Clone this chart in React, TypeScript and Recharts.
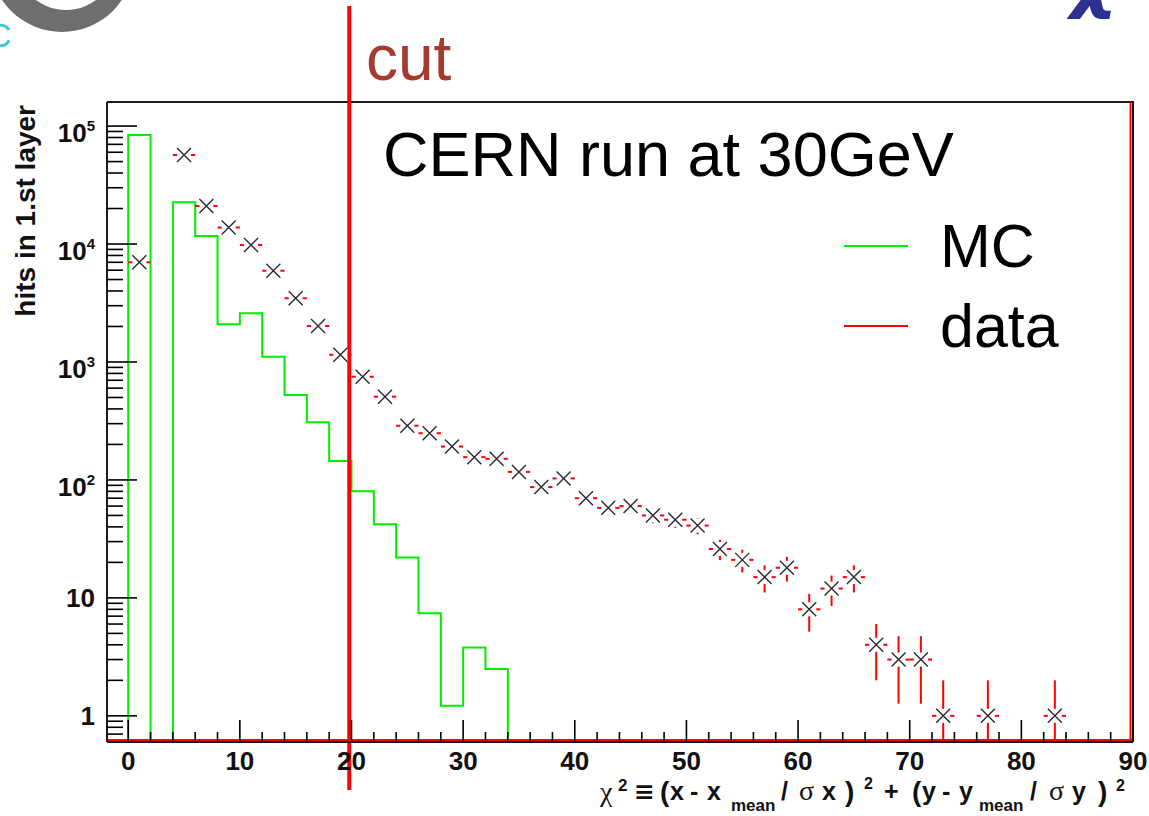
import React from 'react';
import { ComposedChart, Line, Scatter, ErrorBar, XAxis, YAxis, ReferenceLine, Legend } from 'recharts';

// ---------- data ----------
const mcBinEdges = [0, 2, 4, 6, 8, 10, 12, 14, 16, 18, 20, 22, 24, 26, 28, 30, 32, 34];
const mcCounts = [84000, 0, 22600, 11700, 2090, 2590, 1110, 525, 308, 145, 80, 42, 22, 7.4, 1.22, 3.8, 2.5, 0];

const dataX = [1, 5, 7, 9, 11, 13, 15, 17, 19, 21, 23, 25, 27, 29, 31, 33, 35, 37, 39, 41, 43, 45, 47, 49, 51, 53, 55, 57, 59, 61, 63, 65, 67, 69, 71, 73, 77, 83];
const dataCounts = [7000, 56800, 21000, 13800, 9800, 5940, 3470, 2020, 1150, 750, 508, 288, 249, 192, 156, 151, 117, 87, 103, 70, 58, 60, 50, 46, 41, 26, 21, 15, 18, 8, 12, 15, 4, 3, 3, 1, 1, 1];
const binHalfWidth = 1;

const xTicks = [0, 2, 4, 6, 8, 10, 12, 14, 16, 18, 20, 22, 24, 26, 28, 30, 32, 34, 36, 38, 40, 42, 44, 46, 48, 50, 52, 54, 56, 58, 60, 62, 64, 66, 68, 70, 72, 74, 76, 78, 80, 82, 84, 86, 88, 90];
const xLabelTicks = [0, 10, 20, 30, 40, 50, 60, 70, 80, 90];

const yMajorTicks = [1, 10, 100, 1000, 10000, 100000];
const yTickBase = ['1', '10', '10', '10', '10', '10'];
const yTickExp = ['', '', '2', '3', '4', '5'];
const yMinorTicks = [0.7, 0.8, 0.9,
  2, 3, 4, 5, 6, 7, 8, 9,
  20, 30, 40, 50, 60, 70, 80, 90,
  200, 300, 400, 500, 600, 700, 800, 900,
  2000, 3000, 4000, 5000, 6000, 7000, 8000, 9000,
  20000, 30000, 40000, 50000, 60000, 70000, 80000, 90000];

const X_MIN = -1.9;
const X_MAX = 90;
const Y_MIN = 0.6;
const Y_MAX = 160000;
const CUT = 19.8;

const seriesNames = ['MC', 'data'];
const titleText = 'CERN run at 30GeV';
const cutText = 'cut';
const yTitle = 'hits in 1.st layer';

// ---------- derived ----------
const mcData = [{ x: mcBinEdges[0], y: Y_MIN }].concat(
  mcBinEdges.map((e, i) => ({ x: e, y: mcCounts[i] > 0 ? mcCounts[i] : Y_MIN }))
);

const scatterData = dataX.map((x, i) => {
  const n = dataCounts[i];
  const s = Math.sqrt(n);
  const low = Math.max(n - s, Y_MIN);
  return { x, y: n, xErr: binHalfWidth, yErr: [n - low, s] };
});

const yTicksAll = [...yMinorTicks, ...yMajorTicks].sort((a, b) => a - b);

const FONT = "'Liberation Sans', Arial, Helvetica, sans-serif";
const GREEK = "'Liberation Serif', 'DejaVu Serif', serif";

const renderYTick = (props: any) => {
  const { x, y, payload } = props;
  const v = payload.value;
  const idx = yMajorTicks.indexOf(v);
  const major = idx >= 0;
  return (
    <g>
      <line x1={x} x2={x + (major ? 30 : 16)} y1={y} y2={y} stroke="#000" strokeWidth={1.6} />
      {major && (yTickExp[idx] ? (
        <text x={x - 12} y={y + 16} textAnchor="end" fontFamily={FONT} fontWeight="bold" fontSize={26} fill="#111">
          <tspan>{yTickBase[idx]}</tspan>
          <tspan dy={-11} fontSize={15}>{yTickExp[idx]}</tspan>
        </text>
      ) : (
        <text x={x - 12} y={y + 9} textAnchor="end" fontFamily={FONT} fontWeight="bold" fontSize={26} fill="#111">
          {yTickBase[idx]}
        </text>
      ))}
    </g>
  );
};

const renderXTick = (props: any) => {
  const { x, y, payload } = props;
  const v = payload.value;
  const major = xLabelTicks.indexOf(v) >= 0;
  return (
    <g>
      <line x1={x} x2={x} y1={y} y2={y - (major ? 22 : 10)} stroke="#000" strokeWidth={1.6} />
      {major && (
        <text x={x} y={y + 28} textAnchor="middle" fontFamily={FONT} fontWeight="bold" fontSize={26} fill="#111">
          {v}
        </text>
      )}
    </g>
  );
};

const renderMarker = (props: any) => {
  const { cx, cy } = props;
  if (cx == null || cy == null) return <g />;
  const h = 7;
  return (
    <g>
      <rect x={cx - h} y={cy - h} width={2 * h} height={2 * h} fill="#fff" />
      <path d={`M${cx - h},${cy - h}L${cx + h},${cy + h}M${cx - h},${cy + h}L${cx + h},${cy - h}`} stroke="#2a2a2a" strokeWidth={1.4} />
    </g>
  );
};

const renderLegend = (props: any) => {
  const { payload } = props;
  return (
    <div style={{ display: 'flex', flexDirection: 'column' }}>
      {(payload || []).map((e: any) => (
        <div key={e.value} style={{ display: 'flex', alignItems: 'center', height: 80 }}>
          <div style={{ width: 64, height: 2, background: e.color }} />
          <span style={{ marginLeft: 32, fontSize: 61, fontFamily: FONT, color: '#000', lineHeight: '80px' }}>{e.value}</span>
        </div>
      ))}
    </div>
  );
};

const cutShape = (props: any) => {
  const { x1, y1, y2 } = props;
  const top = Math.min(y1, y2);
  const bottom = Math.max(y1, y2);
  return <line x1={x1} x2={x1} y1={top - 96} y2={bottom + 48} stroke="#ff0000" strokeWidth={4} />;
};

const bottomRedShape = (props: any) => {
  const { x1, x2, y1 } = props;
  return <line x1={x1} x2={x2} y1={y1 - 2} y2={y1 - 2} stroke="#ff0000" strokeWidth={2} />;
};

const rightEdgeShape = (props: any) => {
  const { x1, y1, y2 } = props;
  const top = Math.min(y1, y2);
  const bottom = Math.max(y1, y2);
  return (
    <g>
      <line x1={x1 - 2.5} x2={x1 - 2.5} y1={top} y2={bottom} stroke="#ff0000" strokeWidth={2} />
      <line x1={x1} x2={x1} y1={top - 1} y2={bottom} stroke="#1a1a1a" strokeWidth={2} />
    </g>
  );
};

const TS = { fontFamily: FONT, fontWeight: 'bold' as const, fill: '#111' };

export default function App() {
  return (
    <div style={{ position: 'absolute', left: 0, top: 0, width: 1149, height: 816, background: '#fff' }}>
      <ComposedChart width={1149} height={816} margin={{ top: 102, right: 16, left: 0, bottom: 0 }}>
        <XAxis
          dataKey="x"
          type="number"
          domain={[X_MIN, X_MAX]}
          allowDataOverflow
          ticks={xTicks}
          interval={0}
          tick={renderXTick}
          tickLine={false}
          tickSize={0}
          tickMargin={0}
          height={74}
          axisLine={{ stroke: '#1a1a1a', strokeWidth: 2 }}
        />
        <YAxis
          dataKey="y"
          type="number"
          scale="log"
          domain={[Y_MIN, Y_MAX]}
          allowDataOverflow
          ticks={yTicksAll}
          interval={0}
          tick={renderYTick}
          tickLine={false}
          tickSize={0}
          tickMargin={0}
          width={107}
          axisLine={{ stroke: '#1a1a1a', strokeWidth: 2 }}
        />
        <Line
          name={seriesNames[0]}
          data={mcData}
          dataKey="y"
          type="stepAfter"
          stroke="#00ee00"
          strokeWidth={2}
          dot={false}
          activeDot={false}
          isAnimationActive={false}
        />
        <Scatter
          name={seriesNames[1]}
          data={scatterData}
          dataKey="y"
          fill="#ff0000"
          shape={renderMarker}
          isAnimationActive={false}
        >
          <ErrorBar dataKey="xErr" direction="x" width={0} stroke="#ff0000" strokeWidth={2} />
          <ErrorBar dataKey="yErr" direction="y" width={0} stroke="#ff0000" strokeWidth={2} />
        </Scatter>
        <ReferenceLine y={Y_MAX} stroke="#1a1a1a" strokeWidth={2} />
        <ReferenceLine y={Y_MIN} shape={bottomRedShape} />
        <ReferenceLine x={X_MAX} shape={rightEdgeShape} />
        <ReferenceLine x={CUT} shape={cutShape} />
        <Legend
          layout="horizontal"
          verticalAlign="middle"
          align="center"
          content={renderLegend}
          wrapperStyle={{ position: 'absolute', left: 844, top: 206, width: 300 }}
        />
      </ComposedChart>
      <svg width={1149} height={816} style={{ position: 'absolute', left: 0, top: 0, pointerEvents: 'none' }}>
        {/* slide decorations */}
        <path
          fillRule="evenodd"
          fill="#6e6e6e"
          d="M -10,-40 A 72,72 0 1 0 134,-40 A 72,72 0 1 0 -10,-40 Z M 16,-40 A 50,50 0 1 0 116,-40 A 50,50 0 1 0 16,-40 Z"
        />
        <text x={-13} y={47} fontFamily={FONT} fontSize={34} fill="#3cc6d2">C</text>
        <text x={1070} y={4} fontFamily="'DejaVu Sans', sans-serif" fontStyle="italic" fontWeight="bold" fontSize={72} fill="#2e3192">χ</text>

        <text x={366} y={80} fontFamily={FONT} fontSize={64} fill="#a63a2f">{cutText}</text>
        <text x={383} y={176} fontFamily={FONT} fontSize={63} fill="#000">{titleText}</text>

        <text transform="translate(35,105) rotate(-90)" textAnchor="end" fontFamily={FONT} fontWeight="bold" fontSize={28} fill="#111">
          {yTitle}
        </text>

        <text fontSize={25} {...TS}>
          <tspan x={600} y={801} fontFamily={GREEK} fontWeight="normal" fontSize={28}>χ</tspan>
          <tspan x={618} y={791} fontSize={17}>2</tspan>
          <tspan x={634} y={800} fontFamily="'DejaVu Sans', sans-serif">≡</tspan>
          <tspan x={660} y={801} fontSize={28}>(</tspan>
          <tspan x={670} y={800}>x</tspan>
          <tspan x={690} y={800}>-</tspan>
          <tspan x={707} y={800}>x</tspan>
          <tspan x={731} y={811} fontSize={17}>mean</tspan>
          <tspan x={781} y={800}>/</tspan>
          <tspan x={799} y={800} fontFamily={GREEK} fontWeight="normal" fontSize={28}>σ</tspan>
          <tspan x={822} y={800}>x</tspan>
          <tspan x={845} y={801} fontSize={28}>)</tspan>
          <tspan x={864} y={789} fontSize={16}>2</tspan>
          <tspan x={884} y={800}>+</tspan>
          <tspan x={912} y={801} fontSize={28}>(</tspan>
          <tspan x={922} y={800}>y</tspan>
          <tspan x={942} y={800}>-</tspan>
          <tspan x={959} y={800}>y</tspan>
          <tspan x={979} y={811} fontSize={17}>mean</tspan>
          <tspan x={1030} y={800}>/</tspan>
          <tspan x={1049} y={800} fontFamily={GREEK} fontWeight="normal" fontSize={28}>σ</tspan>
          <tspan x={1072} y={800}>y</tspan>
          <tspan x={1098} y={801} fontSize={28}>)</tspan>
          <tspan x={1116} y={791} fontSize={16}>2</tspan>
        </text>
      </svg>
    </div>
  );
}
